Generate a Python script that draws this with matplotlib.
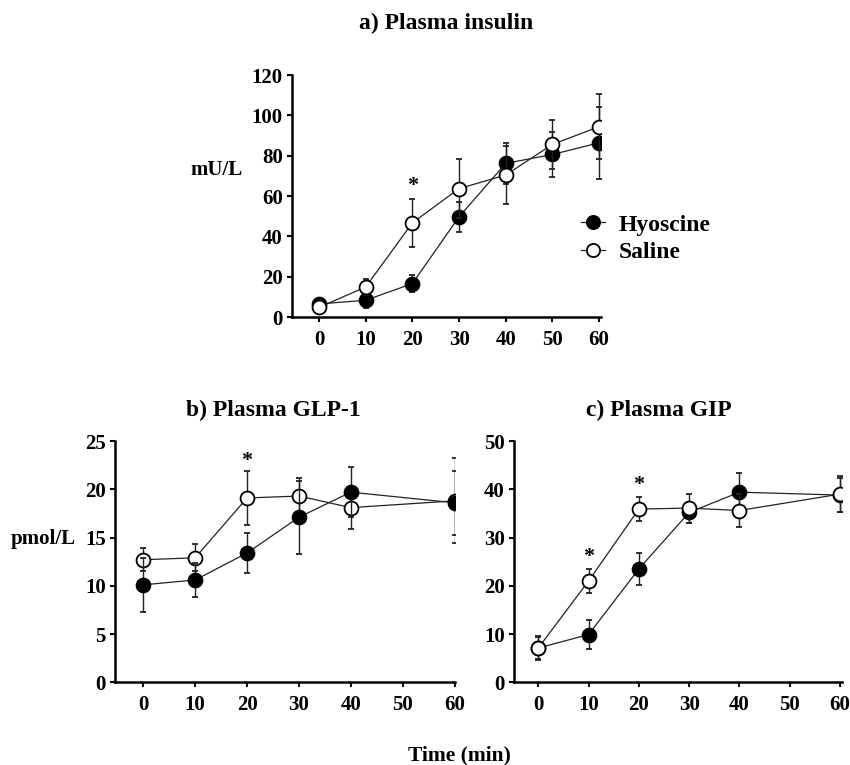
import matplotlib
matplotlib.use("Agg")
import matplotlib.pyplot as plt

plt.rcParams['font.family'] = ['Liberation Serif', 'DejaVu Serif']
plt.rcParams['font.weight'] = 'bold'

# данные
time_a = [0, 10, 20, 30, 40, 50, 60]
insulin_hyo = [6.5, 8.3, 16.6, 49.7, 76.2, 80.6, 86.4]
insulin_hyo_err = [1.5, 4, 4, 7.5, 10, 11, 18]
insulin_sal = [4.8, 14.9, 46.7, 63.7, 70.4, 85.6, 94.4]
insulin_sal_err = [1, 4, 12, 14.5, 14.5, 12, 16]

time_b = [0, 10, 20, 30, 40, 60]
glp_hyo = [10.1, 10.6, 13.4, 17.1, 19.7, 18.6]
glp_hyo_err = [2.8, 1.8, 2.1, 3.8, 2.6, 3.3]
glp_sal = [12.7, 12.9, 19.1, 19.3, 18.1, 18.8]
glp_sal_err = [1.2, 1.4, 2.8, 1.9, 2.2, 4.4]

time_c = [0, 10, 20, 30, 40, 60]
gip_hyo = [7.1, 9.9, 23.5, 35.2, 39.4, 38.8]
gip_hyo_err = [2.3, 3.0, 3.3, 2.2, 4.0, 3.5]
gip_sal = [7.1, 21.0, 35.9, 36.1, 35.6, 39.0]
gip_sal_err = [2.4, 2.4, 2.4, 3.0, 3.5, 3.8]

x_ticks = [0, 10, 20, 30, 40, 50, 60]


def style_axes(ax, xlim, ylim, yticks):
    ax.set_xlim(*xlim)
    ax.set_ylim(*ylim)
    ax.set_xticks(x_ticks)
    ax.set_yticks(yticks)
    for side in ['top', 'right']:
        ax.spines[side].set_visible(False)
    for side in ['left', 'bottom']:
        ax.spines[side].set_linewidth(1.8)
    ax.tick_params(axis='both', direction='out', length=3.5, width=1.5, labelsize=15)
    ax.tick_params(axis='x', pad=6)
    ax.tick_params(axis='y', pad=3)
    for lab in ax.get_xticklabels() + ax.get_yticklabels():
        lab.set_fontweight('bold')


def draw_series(ax, t, y, err, filled, z):
    face = 'black' if filled else 'white'
    cont = ax.errorbar(t, y, yerr=err, fmt='-o', color='#222222', lw=0.9,
                       elinewidth=1.0, capsize=2.5, capthick=1.0,
                       ms=10, mfc=face, mec='black', mew=1.3, zorder=z)
    return cont[0]


fig = plt.figure(figsize=(8.5, 7.65), dpi=100)

# a) инсулин
ax_a = fig.add_axes([0.3435, 0.5856, 0.3635, 0.3163])
h1 = draw_series(ax_a, time_a, insulin_hyo, insulin_hyo_err, True, 3)
h2 = draw_series(ax_a, time_a, insulin_sal, insulin_sal_err, False, 4)
style_axes(ax_a, (-5.8, 60.4), (0, 120), [0, 20, 40, 60, 80, 100, 120])
ax_a.text(20, 65, '*', ha='center', va='center', fontsize=16, fontweight='bold')
ax_a.legend([h1, h2], ['Hyoscine', 'Saline'], loc='center left',
            bbox_to_anchor=(0.6835, 0.6882), bbox_transform=fig.transFigure,
            frameon=False, fontsize=17, handlelength=1.0, handletextpad=0.6,
            labelspacing=0.25, borderpad=0, borderaxespad=0, markerscale=0.95)

# b) GLP-1
ax_b = fig.add_axes([0.1353, 0.1081, 0.3995, 0.3154])
draw_series(ax_b, time_b, glp_sal, glp_sal_err, False, 3)
draw_series(ax_b, time_b, glp_hyo, glp_hyo_err, True, 4)
style_axes(ax_b, (-5.45, 60), (0, 25), [0, 5, 10, 15, 20, 25])
ax_b.text(20, 22.9, '*', ha='center', va='center', fontsize=16, fontweight='bold')

# c) GIP
ax_c = fig.add_axes([0.6047, 0.1081, 0.3859, 0.3154])
draw_series(ax_c, time_c, gip_hyo, gip_hyo_err, True, 3)
draw_series(ax_c, time_c, gip_sal, gip_sal_err, False, 4)
style_axes(ax_c, (-4.83, 60.4), (0, 50), [0, 10, 20, 30, 40, 50])
ax_c.text(10, 25.9, '*', ha='center', va='center', fontsize=16, fontweight='bold')
ax_c.text(20, 40.9, '*', ha='center', va='center', fontsize=16, fontweight='bold')

# подписи
fig.text(446 / 850, 1 - 23 / 765, 'a) Plasma insulin', ha='center', va='center', fontsize=17)
fig.text(273 / 850, 1 - 410 / 765, 'b) Plasma GLP-1', ha='center', va='center', fontsize=17)
fig.text(659 / 850, 1 - 410 / 765, 'c) Plasma GIP', ha='center', va='center', fontsize=17)
fig.text(217 / 850, 1 - 170 / 765, 'mU/L', ha='center', va='center', fontsize=15)
fig.text(43 / 850, 1 - 539 / 765, 'pmol/L', ha='center', va='center', fontsize=15)
fig.text(459 / 850, 1 - 755 / 765, 'Time (min)', ha='center', va='center', fontsize=15.5)

fig.savefig('out.png', dpi=100)
